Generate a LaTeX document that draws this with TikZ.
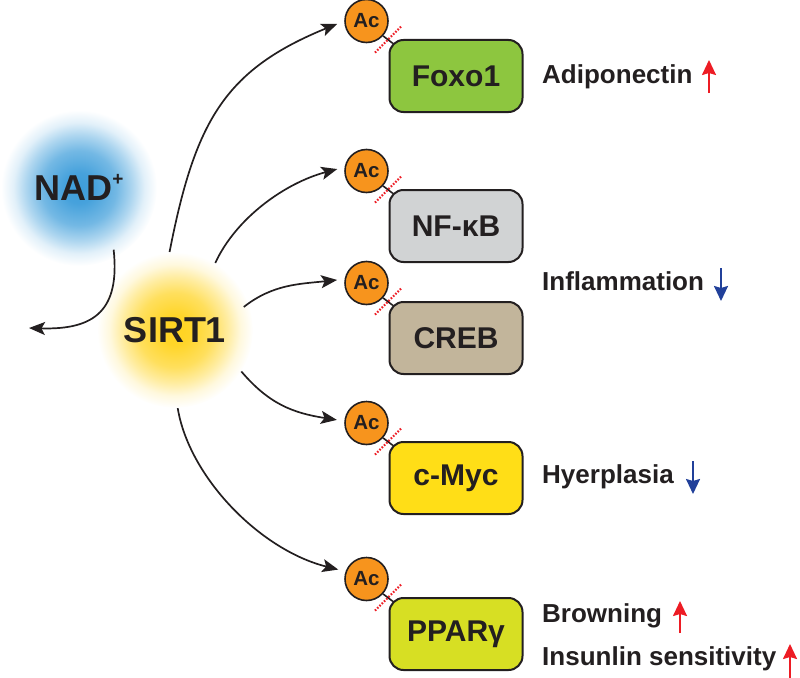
\documentclass[tikz,border=0pt]{standalone}
\usepackage{fontspec}
\setmainfont{Liberation Sans}
\usetikzlibrary{arrows.meta,calc}

\definecolor{txt}{HTML}{231F20}
\definecolor{foxoc}{HTML}{8DC63F}
\definecolor{nfkbc}{HTML}{D1D3D4}
\definecolor{crebc}{HTML}{C2B59B}
\definecolor{cmycc}{HTML}{FFDE17}
\definecolor{pparc}{HTML}{D7DF23}
\definecolor{acor}{HTML}{F7941D}
\definecolor{upred}{HTML}{ED1C24}
\definecolor{downblue}{HTML}{21409A}
\definecolor{nadblue}{HTML}{3D9DDA}
\definecolor{sirty}{HTML}{FFD31F}

% the node's rim corresponds to 25bp of the shading
\pgfdeclareradialshading{nadglow}{\pgfpoint{0bp}{0bp}}{color(0bp)=(nadblue); color(5bp)=(nadblue!95!white); color(12bp)=(nadblue!72!white); color(17bp)=(nadblue!42!white); color(21bp)=(nadblue!15!white); color(25bp)=(white); color(50bp)=(white)}
\pgfdeclareradialshading{sirtglow}{\pgfpoint{0bp}{0bp}}{color(0bp)=(sirty); color(5bp)=(sirty!95!white); color(12bp)=(sirty!72!white); color(17bp)=(sirty!42!white); color(21bp)=(sirty!15!white); color(25bp)=(white); color(50bp)=(white)}

\tikzset{
  prot/.style={draw=txt, line width=2pt, rounded corners=14pt, minimum width=133pt,
    minimum height=72pt, inner sep=0pt, text=txt, font=\bfseries\fontsize{30}{30}\selectfont},
  acnode/.style={circle, draw=txt, line width=1.6pt, fill=acor, minimum size=43pt,
    inner sep=0pt, text=txt, font=\bfseries\fontsize{20.5}{20.5}\selectfont},
  lbl/.style={anchor=base west, inner sep=0pt, text=txt, font=\bfseries\fontsize{26}{26}\selectfont},
  linkline/.style={draw=txt, line width=1.6pt},
  cutline/.style={draw=upred, line width=2.2pt, dash pattern=on 1.6pt off 1.6pt},
  actarrow/.style={draw=txt, line width=1.7pt, shorten >=7.5pt,
    -{Stealth[length=16pt,width=13pt,inset=3.5pt]}},
  uparrow/.style={draw=upred, line width=2pt, -{Stealth[length=15pt,width=14pt,inset=2pt]}},
  downarrow/.style={draw=downblue, line width=2pt, -{Stealth[length=15pt,width=14pt,inset=2pt]}},
  glow/.style={circle, minimum size=156pt, inner sep=0pt, shade, text=txt,
    font=\bfseries\fontsize{36}{36}\selectfont},
}

\begin{document}
\begin{tikzpicture}[x=1pt,y=-1pt]
\useasboundingbox (0,0) rectangle (800,677);

% glows
\node[glow, shading=nadglow] (nad) at (79,188)
  {NAD\raisebox{0.42em}[0pt][0pt]{\fontsize{19}{19}\selectfont +}};
\node[glow, shading=sirtglow] (sirt) at (175,330) {SIRT1};

% proteins with acetyl groups
\foreach \n/\y/\c/\t in {foxo/76/foxoc/Foxo1, nfkb/226/nfkbc/NF-κB, creb/338/crebc/CREB,
                         cmyc/478/cmycc/c-Myc, ppar/634/pparc/PPARγ}{
  \node[prot, fill=\c] (\n) at (456,\y) {\t};
  \node[acnode] (ac\n) at ($(\n.north west)+(-22,-18)$) {Ac};
  \draw[linkline] (ac\n.-42) -- coordinate[midway] (m\n) ($(\n.north west)+(4.4,4.4)$);
  \draw[cutline] ($(m\n)+(-13,13)$) -- ($(m\n)+(13,-13)$);
}

% activation arrows from SIRT1
\draw[actarrow] (sirt.94) .. controls (195,122) and (224,70) .. (acfoxo.west);
\draw[actarrow] (sirt.59) .. controls (236,218) and (285,183) .. (acnfkb.170);
\draw[actarrow, shorten <=-6pt] (sirt.20) .. controls (273,284) and (300,284) .. (accreb.170);
\draw[actarrow] (sirt.-32) .. controls (269,404) and (293,413) .. (accmyc.175);
\draw[actarrow] (sirt.-88) .. controls (189,477) and (260,550) .. (acppar.160);

% NAD+ consumption arrow
\coordinate (nadend) at (29,328);
\draw[actarrow, shorten >=0pt, shorten <=-8pt] (nad.-63) .. controls (120,310) and (95,330) .. (nadend);

% outcome labels
\node[lbl] (adipo) at (542,83) {Adiponectin};
\node[lbl] (infl) at (542,290) {Inflammation};
\node[lbl] (hyper) at (542,483) {Hyerplasia};
\node[lbl] (brown) at (542,622) {Browning};
\node[lbl] (insul) at (542,665) {Insunlin sensitivity};

\coordinate (u1s) at (709,93);  \coordinate (u1e) at (709,60);
\coordinate (d1s) at (721,268); \coordinate (d1e) at (721,301);
\coordinate (d2s) at (693,461); \coordinate (d2e) at (693,494);
\coordinate (u2s) at (680,633); \coordinate (u2e) at (680,601);
\coordinate (u3s) at (790,678); \coordinate (u3e) at (790,644);
\draw[uparrow] (u1s) -- (u1e);
\draw[downarrow] (d1s) -- (d1e);
\draw[downarrow] (d2s) -- (d2e);
\draw[uparrow] (u2s) -- (u2e);
\draw[uparrow] (u3s) -- (u3e);
\end{tikzpicture}
\end{document}
